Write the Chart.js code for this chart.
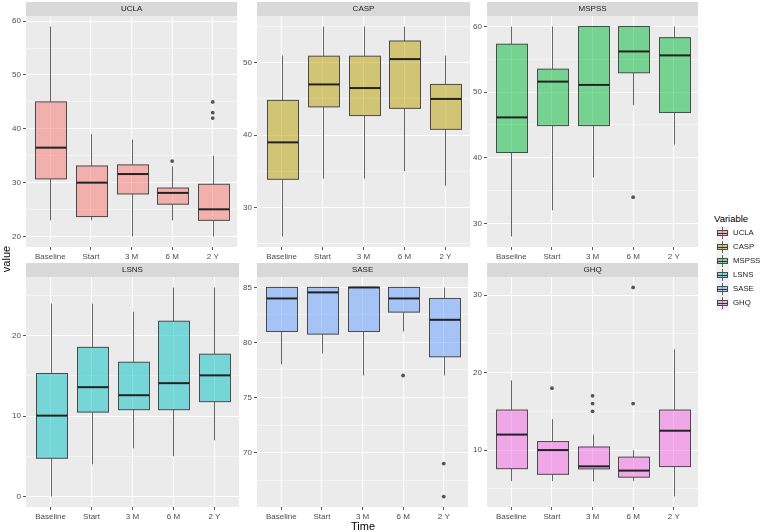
<!DOCTYPE html>
<html><head><meta charset="utf-8">
<script src="https://cdn.jsdelivr.net/npm/chart.js@4"></script>
<style>
body{margin:0;background:#fff;}
#wrap{position:relative;width:761px;height:532px;overflow:hidden;font-family:"Liberation Sans",Arial,sans-serif;background:#fff;}
canvas{position:absolute;}
#ytitle{position:absolute;left:-12px;top:252px;width:36px;text-align:center;font-size:11px;color:#000;transform:rotate(-90deg);line-height:14px;}
#xtitle{position:absolute;left:333px;top:519px;width:60px;text-align:center;font-size:11px;color:#000;line-height:14px;}
#legend{position:absolute;left:714px;top:212px;}
#legend .lt{font-size:9.5px;color:#000;line-height:14px;white-space:nowrap;}
#legend .row{position:relative;height:14.1px;}
#legend .key{position:absolute;left:2px;top:0;width:13px;height:14.1px;background:#F2F2F2;}
#legend .wh{position:absolute;left:6px;top:1px;width:1px;height:12px;background:#666;}
#legend .bx{position:absolute;left:1px;top:4px;width:9px;height:4px;border:1px solid #4d4d4d;}
#legend .md{position:absolute;left:1px;top:6.5px;width:11px;height:1px;background:#333;}
#legend .lb{position:absolute;left:19px;top:0;font-size:7.8px;line-height:14.1px;color:#1a1a1a;white-space:nowrap;}
</style></head><body>
<div id="wrap">
<canvas id="c0" width="239" height="261" style="left:0px;top:2px"></canvas>
<canvas id="c1" width="239" height="261" style="left:231px;top:2px"></canvas>
<canvas id="c2" width="239" height="261" style="left:461px;top:2px"></canvas>
<canvas id="c3" width="239" height="260" style="left:0px;top:263px"></canvas>
<canvas id="c4" width="239" height="260" style="left:231px;top:263px"></canvas>
<canvas id="c5" width="239" height="260" style="left:461px;top:263px"></canvas>
<div id="ytitle">value</div>
<div id="xtitle">Time</div>
<div id="legend"><div class="lt">Variable</div></div>
</div>
<script>
const categories = ['Baseline','Start','3 M','6 M','2 Y'];
const variables = ['UCLA','CASP','MSPSS','LSNS','SASE','GHQ'];
const fillColors = ['rgba(248,118,109,0.5)','rgba(183,159,0,0.5)','rgba(0,186,56,0.5)','rgba(0,191,196,0.5)','rgba(97,156,255,0.5)','rgba(245,100,227,0.5)'];

const uclaLow  = [23, 23, 20, 23, 20];
const uclaQ1   = [30.7, 23.7, 27.9, 26, 23];
const uclaMed  = [36.5, 30, 31.6, 28.1, 25.05];
const uclaQ3   = [45, 33.1, 33.3, 29, 29.7];
const uclaHigh = [59, 39, 38, 33, 35];
const uclaOutCat = [3, 4, 4, 4];
const uclaOutVal = [34, 45, 43, 42];
const uclaTicks = [20, 30, 40, 50, 60];

const caspLow  = [26, 34, 34, 35, 33];
const caspQ1   = [33.9, 43.9, 42.7, 43.7, 40.8];
const caspMed  = [39, 47, 46.5, 50.5, 45];
const caspQ3   = [44.8, 50.9, 50.9, 53, 47];
const caspHigh = [51, 55, 55, 55, 51];
const caspOutCat = [];
const caspOutVal = [];
const caspTicks = [30, 40, 50];

const mspssLow  = [28, 32, 37, 48, 42];
const mspssQ1   = [40.8, 44.9, 44.9, 52.95, 46.9];
const mspssMed  = [46.15, 51.6, 51.1, 56.2, 55.6];
const mspssQ3   = [57.3, 53.5, 60, 60, 58.3];
const mspssHigh = [60, 60, 60, 60, 60];
const mspssOutCat = [3];
const mspssOutVal = [34];
const mspssTicks = [30, 40, 50, 60];

const lsnsLow  = [0, 4, 6, 5, 7];
const lsnsQ1   = [4.76, 10.5, 10.8, 10.8, 11.8];
const lsnsMed  = [10.06, 13.6, 12.6, 14.1, 15.07];
const lsnsQ3   = [15.3, 18.55, 16.7, 21.8, 17.7];
const lsnsHigh = [24, 24, 23, 26, 26];
const lsnsOutCat = [];
const lsnsOutVal = [];
const lsnsTicks = [0, 10, 20];

const saseLow  = [78, 79, 77, 81, 77];
const saseQ1   = [81, 80.76, 81, 82.76, 78.7];
const saseMed  = [84, 84.55, 85, 84, 82.06];
const saseQ3   = [85, 85, 85, 85, 84];
const saseHigh = [85, 85, 85, 85, 85];
const saseOutCat = [3, 4, 4];
const saseOutVal = [77, 69, 66];
const saseTicks = [70, 75, 80, 85];

const ghqLow  = [6, 6, 6, 6, 4];
const ghqQ1   = [7.6, 6.87, 7.57, 6.5, 7.87];
const ghqMed  = [12, 10, 7.9, 7.35, 12.5];
const ghqQ3   = [15.17, 11.1, 10.4, 9.09, 15.17];
const ghqHigh = [19, 14, 12, 10, 23];
const ghqOutCat = [1, 2, 2, 2, 3, 3];
const ghqOutVal = [18, 17, 16, 15, 31, 16];
const ghqTicks = [10, 20, 30];

const FONT = '"Liberation Sans", Arial, sans-serif';

const boxPlugin = {
  id: 'boxes',
  beforeDraw(chart) {
    const o = chart.options.plugins.boxes;
    const ctx = chart.ctx, a = chart.chartArea;
    ctx.save();
    ctx.fillStyle = '#EBEBEB';
    ctx.fillRect(a.left, a.top, a.right - a.left, a.bottom - a.top);
    ctx.fillStyle = '#D9D9D9';
    ctx.fillRect(a.left, a.top - 14, a.right - a.left, 14);
    ctx.fillStyle = '#1A1A1A';
    ctx.font = '8px ' + FONT;
    ctx.textAlign = 'center';
    ctx.textBaseline = 'middle';
    ctx.fillText(o.name, (a.left + a.right) / 2, a.top - 7);
    ctx.restore();
  },
  beforeDatasetsDraw(chart) {
    const o = chart.options.plugins.boxes;
    const ctx = chart.ctx, xs = chart.scales.x, ys = chart.scales.y;
    ctx.save();
    for (let i = 0; i < o.med.length; i++) {
      const cx = Math.round(xs.getPixelForValue(i)) + 0.5;
      const hw = xs.getPixelForValue(i + 0.375) - xs.getPixelForValue(i);
      const yLow = ys.getPixelForValue(o.low[i]);
      const yQ1 = ys.getPixelForValue(o.q1[i]);
      const yMed = ys.getPixelForValue(o.med[i]);
      const yQ3 = ys.getPixelForValue(o.q3[i]);
      const yHigh = ys.getPixelForValue(o.high[i]);
      ctx.strokeStyle = '#666';
      ctx.lineWidth = 1;
      ctx.beginPath();
      ctx.moveTo(cx, yHigh); ctx.lineTo(cx, yQ3);
      ctx.moveTo(cx, yQ1); ctx.lineTo(cx, yLow);
      ctx.stroke();
      const left = Math.round(cx - hw) + 0.5, right = Math.round(cx + hw) + 0.5;
      ctx.fillStyle = o.color;
      ctx.fillRect(left, yQ3, right - left, yQ1 - yQ3);
      ctx.strokeStyle = '#4a4a4a';
      ctx.strokeRect(left, yQ3, right - left, yQ1 - yQ3);
      ctx.strokeStyle = '#222';
      ctx.lineWidth = 2;
      ctx.beginPath();
      ctx.moveTo(left, yMed); ctx.lineTo(right, yMed);
      ctx.stroke();
    }
    ctx.restore();
  }
};

function makePanel(idx, low, q1, med, q3, high, outCat, outVal, majors) {
  const all = low.concat(high, outVal);
  const mn = Math.min(...all), mx = Math.max(...all);
  const r = mx - mn;
  const ymin = mn - 0.05 * r, ymax = mx + 0.05 * r;
  const step = majors[1] - majors[0];
  const tickVals = [];
  for (let v = majors[0] - step / 2; v <= majors[majors.length - 1] + step / 2 + 1e-9; v += step / 2) {
    if (v >= ymin && v <= ymax) tickVals.push(+v.toFixed(4));
  }
  const isMajor = v => majors.some(m => Math.abs(m - v) < 1e-6);
  new Chart(document.getElementById('c' + idx), {
    type: 'scatter',
    data: {
      datasets: [{
        data: outCat.map((c, i) => ({ x: c, y: outVal[i] })),
        pointRadius: 1.9,
        pointHoverRadius: 1.9,
        backgroundColor: '#555',
        borderColor: '#555',
        borderWidth: 0
      }]
    },
    options: {
      responsive: false,
      animation: false,
      devicePixelRatio: 1,
      events: [],
      layout: { padding: { top: 14, left: 0, right: 0, bottom: 0 } },
      plugins: {
        legend: { display: false },
        tooltip: { enabled: false },
        boxes: { name: variables[idx], color: fillColors[idx], low, q1, med, q3, high }
      },
      scales: {
        x: {
          type: 'linear',
          min: -0.6, max: 4.6,
          afterBuildTicks: s => { s.ticks = categories.map((c, i) => ({ value: i })); },
          afterFit: s => { s.height = 16; },
          ticks: {
            autoSkip: false, maxRotation: 0,
            callback: v => categories[v],
            color: '#4D4D4D', font: { family: FONT, size: 8 }, padding: 1.5
          },
          grid: { color: '#FFFFFF', lineWidth: 1, tickLength: 3, tickColor: '#555' },
          border: { display: false }
        },
        y: {
          type: 'linear',
          min: ymin, max: ymax,
          afterBuildTicks: s => { s.ticks = tickVals.map(v => ({ value: v })); },
          afterFit: s => { s.width = 26; },
          ticks: {
            autoSkip: false,
            callback: v => isMajor(v) ? String(v) : '',
            color: '#4D4D4D', font: { family: FONT, size: 8 }, padding: 2
          },
          grid: {
            color: '#FFFFFF',
            lineWidth: c => isMajor(c.tick.value) ? 1 : 0.5,
            tickLength: 3,
            tickColor: c => isMajor(c.tick.value) ? '#555' : 'rgba(0,0,0,0)'
          },
          border: { display: false }
        }
      }
    },
    plugins: [boxPlugin]
  });
}

makePanel(0, uclaLow, uclaQ1, uclaMed, uclaQ3, uclaHigh, uclaOutCat, uclaOutVal, uclaTicks);
makePanel(1, caspLow, caspQ1, caspMed, caspQ3, caspHigh, caspOutCat, caspOutVal, caspTicks);
makePanel(2, mspssLow, mspssQ1, mspssMed, mspssQ3, mspssHigh, mspssOutCat, mspssOutVal, mspssTicks);
makePanel(3, lsnsLow, lsnsQ1, lsnsMed, lsnsQ3, lsnsHigh, lsnsOutCat, lsnsOutVal, lsnsTicks);
makePanel(4, saseLow, saseQ1, saseMed, saseQ3, saseHigh, saseOutCat, saseOutVal, saseTicks);
makePanel(5, ghqLow, ghqQ1, ghqMed, ghqQ3, ghqHigh, ghqOutCat, ghqOutVal, ghqTicks);

// legend
const legend = document.getElementById('legend');
variables.forEach((v, i) => {
  const row = document.createElement('div');
  row.className = 'row';
  row.innerHTML = '<div class="key"><div class="wh"></div><div class="bx" style="background:' + fillColors[i] + '"></div><div class="md"></div></div><div class="lb">' + v + '</div>';
  legend.appendChild(row);
});
</script>
</body></html>
